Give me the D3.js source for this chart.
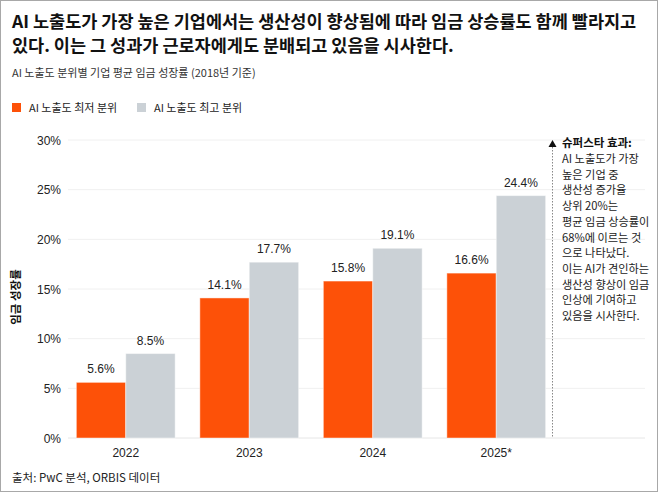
<!DOCTYPE html>
<html><head><meta charset="utf-8">
<script src="https://cdn.jsdelivr.net/npm/d3@7"></script>
<style>
html,body{margin:0;padding:0;background:#fff;}
svg{display:block;font-family:"Liberation Sans","Noto Sans CJK KR",sans-serif;}
</style></head>
<body>
<svg id="chart" width="658" height="492"></svg>
<script>
const years = ["2022","2023","2024","2025*"];
const seriesNames = ["AI 노출도 최저 분위","AI 노출도 최고 분위"];
const lowValues = [5.6,14.1,15.8,16.6];
const highValues = [8.5,17.7,19.1,24.4];
const yTicks = [0,5,10,15,20,25,30];
const titleLines = ["AI 노출도가 가장 높은 기업에서는 생산성이 향상됨에 따라 임금 상승률도 함께 빨라지고","있다. 이는 그 성과가 근로자에게도 분배되고 있음을 시사한다."];
const subtitle = "AI 노출도 분위별 기업 평균 임금 성장률 (2018년 기준)";
const yTitle = "임금 성장률";
const source = "출처: PwC 분석, ORBIS 데이터";
const noteTitle = "슈퍼스타 효과:";
const noteLines = ["AI 노출도가 가장","높은 기업 중","생산성 증가율","상위 20%는","평균 임금 상승률이","68%에 이르는 것","으로 나타났다.","이는 AI가 견인하는","생산성 향상이 임금","인상에 기여하고","있음을 시사한다."];
const colors = ["#fd5108","#cbd1d6"];

const svg = d3.select("#chart");
const W = 658, H = 492;
svg.append("rect").attr("x",0.5).attr("y",0.5).attr("width",W-1).attr("height",H-1)
  .attr("fill","#fff").attr("stroke","#a8a8a8");

// title
svg.append("g").selectAll("text").data(titleLines).join("text")
  .attr("x",12).attr("y",(d,i)=>28+i*23.5)
  .attr("font-size",17.5).attr("font-weight","bold").attr("fill","#111")
  .attr("font-family","'Noto Sans CJK KR',sans-serif")
  .text(d=>d);
svg.append("text").attr("x",12).attr("y",77).attr("font-size",11)
  .attr("fill","#333").attr("font-family","'Noto Sans CJK KR',sans-serif").text(subtitle);

// legend
const leg = svg.append("g");
const legX = [12,137];
seriesNames.forEach((n,i)=>{
  leg.append("rect").attr("x",legX[i]).attr("y",103).attr("width",9).attr("height",9).attr("fill",colors[i]);
  leg.append("text").attr("x",legX[i]+17).attr("y",111.5).attr("font-size",11)
    .attr("fill","#222").attr("font-family","'Noto Sans CJK KR',sans-serif").text(n);
});

const x = d3.scaleBand().domain(years).range([64,558]).paddingInner(0.2).paddingOuter(0.1);
const xs = d3.scaleBand().domain([0,1]).range([0,x.bandwidth()]);
const y = d3.scaleLinear().domain([0,30]).range([438,140]);

// grid
svg.append("g").selectAll("line").data(yTicks).join("line")
  .attr("x1",68).attr("x2",645).attr("y1",d=>y(d)).attr("y2",d=>y(d))
  .attr("stroke",d=>d===0?"#e6e6e6":"#f0f0f0").attr("stroke-width",1);

// y axis labels
const yAxis = d3.axisLeft(y).tickValues(yTicks).tickFormat(d=>d+"%").tickSize(0).tickPadding(0);
const yg = svg.append("g").attr("transform","translate(61,0)").call(yAxis);
yg.select(".domain").remove();
yg.selectAll("text").attr("font-size",12).attr("fill","#222").attr("dy","0.35em")
  .attr("font-family","'Liberation Sans',sans-serif");

svg.append("text").attr("transform","translate(20,297) rotate(-90)")
  .attr("text-anchor","middle").attr("font-size",11.5).attr("font-weight","bold")
  .attr("fill","#111").attr("font-family","'Noto Sans CJK KR',sans-serif").text(yTitle);

// x axis
const xAxis = d3.axisBottom(x).tickSize(0).tickPadding(0);
const xg = svg.append("g").attr("transform","translate(0,448)").call(xAxis);
xg.select(".domain").remove();
xg.selectAll("text").attr("font-size",12).attr("fill","#222").attr("dy","0.71em")
  .attr("font-family","'Liberation Sans',sans-serif");

// bars
const data = years.map((yr,i)=>({yr, vals:[lowValues[i],highValues[i]]}));
const groups = svg.append("g").selectAll("g").data(data).join("g")
  .attr("transform",d=>`translate(${x(d.yr)},0)`);
groups.selectAll("rect").data(d=>d.vals.map((v,k)=>({v,k}))).join("rect")
  .attr("x",d=>xs(d.k)).attr("width",xs.bandwidth())
  .attr("y",d=>y(d.v)).attr("height",d=>y(0)-y(d.v))
  .attr("fill",d=>colors[d.k]).attr("stroke","#fff").attr("stroke-opacity",0.45).attr("stroke-width",1);
groups.selectAll("text").data(d=>d.vals.map((v,k)=>({v,k}))).join("text")
  .attr("x",d=>xs(d.k)+xs.bandwidth()/2).attr("y",d=>y(d.v)-9)
  .attr("text-anchor","middle").attr("font-size",12).attr("fill","#222")
  .attr("font-family","'Liberation Sans',sans-serif")
  .text(d=>d.v.toFixed(1)+"%");

// annotation
const ax = 552.5;
svg.append("line").attr("x1",ax).attr("x2",ax).attr("y1",147).attr("y2",438)
  .attr("stroke","#888").attr("stroke-width",1).attr("stroke-dasharray","1.5,1.5");
svg.append("path").attr("d",`M${ax-4},147 L${ax+4},147 L${ax},140 Z`).attr("fill","#111");
svg.append("text").attr("x",562).attr("y",147).attr("font-size",11.5).attr("font-weight","bold")
  .attr("fill","#111").attr("font-family","'Noto Sans CJK KR',sans-serif").text(noteTitle);
svg.append("g").selectAll("text").data(noteLines).join("text")
  .attr("x",562).attr("y",(d,i)=>163+i*15.7).attr("font-size",11.2).attr("fill","#222")
  .attr("font-family","'Noto Sans CJK KR',sans-serif").text(d=>d);

// source
svg.append("text").attr("x",12).attr("y",482).attr("font-size",11.5).attr("fill","#222")
  .attr("font-family","'Noto Sans CJK KR',sans-serif").text(source);
</script>
</body></html>
